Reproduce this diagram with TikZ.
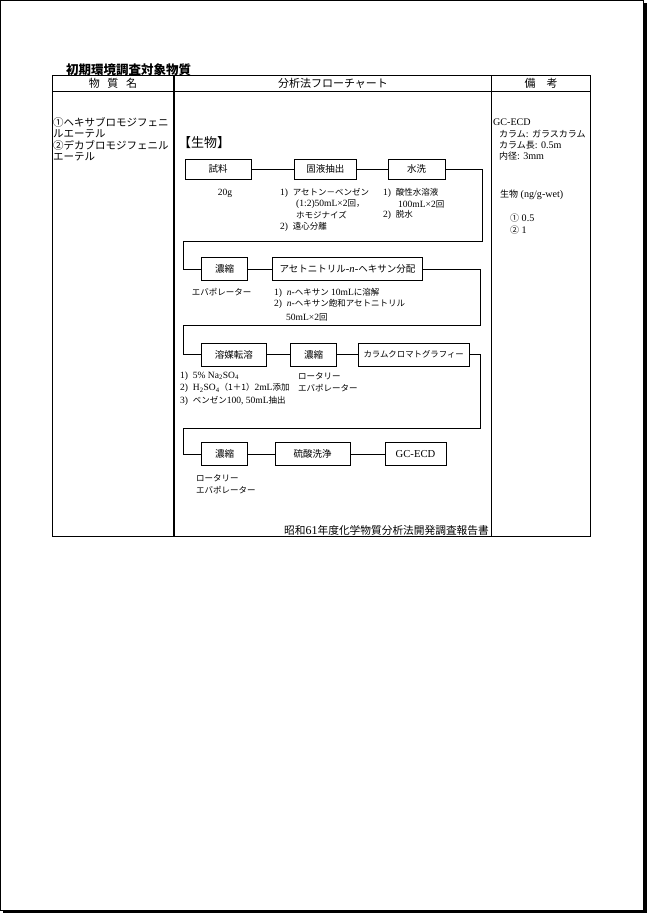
\documentclass[tikz,border=0pt]{standalone}
\usepackage{fontspec}
\setmainfont{Liberation Serif}[Scale=1.12]
\newfontfamily\jp{Noto Sans CJK JP}
\newcommand\fsz[1]{\fontsize{#1}{#1}\selectfont}
\begin{document}
\begin{tikzpicture}[x=1pt,y=-1pt,
  tline/.style={line width=1.1pt},
  box/.style={draw,line width=0.9pt,inner sep=0pt,minimum height=22pt,font=\fsz{9.5}\jp},
  conn/.style={line width=0.9pt},
  note/.style={anchor=west,inner sep=0pt,font=\fsz{8.5}},
  cell/.style={anchor=west,inner sep=0pt,font=\fsz{10.5}\jp},
  rem/.style={anchor=west,inner sep=0pt,font=\fsz{9}},
  head/.style={inner sep=0pt,font=\fsz{11}\jp}]
\useasboundingbox (0,0) rectangle (647,913);
% page frame with shadow
\draw[line width=1pt] (0.5,0.5) rectangle (643.5,910.5);
\fill (643.5,3) rectangle (647,913);
\fill (3,910.5) rectangle (647,913);
% title
\node[anchor=west,inner sep=0pt,font=\fsz{12.5}\jp\bfseries] (title) at (66,70) {初期環境調査対象物質};
% table
\draw[tline] (52.7,75.7) rectangle (590.7,536.7);
\draw[tline] (52.7,91.7) -- (590.7,91.7);
\draw[tline] (174,75.7) -- (174,536.7);
\draw[tline] (491.5,75.7) -- (491.5,536.7);
% headers
\node[head] (h1) at (113,83.5) {物\hspace{0.7em}質\hspace{0.7em}名};
\node[head] (h2) at (333,83.5) {分析法フローチャート};
\node[head] (h3) at (541,83.5) {備\hspace{1em}考};
% left column
\node[cell] (l1) at (53,122) {①ヘキサブロモジフェニ};
\node[cell] (l2) at (53,133.5) {ルエーテル};
\node[cell] (l3) at (53,145) {②デカブロモジフェニル};
\node[cell] (l4) at (53,156.5) {エーテル};
% right column
\node[rem] (g1) at (493,122) {GC-ECD};
\node[rem] (g2) at (499,133.5) {{\jp カラム}: {\jp ガラスカラム}};
\node[rem] (g3) at (499,145) {{\jp カラム長}: 0.5m};
\node[rem] (g4) at (499,156.5) {{\jp 内径}: 3mm};
\node[rem] (g5) at (500,195) {{\jp 生物} (ng/g-wet)};
\node[rem] (g6) at (510,218) {{\jp ①} 0.5};
\node[rem] (g7) at (510,230) {{\jp ②} 1};
% section label
\node[anchor=west,inner sep=0pt,font=\fsz{13}\jp] (sec) at (178,143) {【生物】};
% row 1
\node[box,minimum width=66pt,minimum height=20pt] (s1) at (218,169) {試料};
\node[box,minimum width=62.7pt,minimum height=20pt] (s2) at (325.3,169) {固液抽出};
\node[box,minimum width=56.7pt,minimum height=20pt] (s3) at (416.7,169) {水洗};
\node[note,anchor=center] (n1) at (225,193) {20g};
\node[note] (n2) at (280,193) {1)\ \ {\jp アセトン－ベンゼン}};
\node[note] (n3) at (296,204) {(1:2)50mL×2{\jp 回，}};
\node[note] (n4) at (296,215) {\jp ホモジナイズ};
\node[note] (n5) at (280,227) {2)\ \ {\jp 遠心分離}};
\node[note] (n6) at (383,193) {1)\ \ {\jp 酸性水溶液}};
\node[note] (n7) at (398,204) {100mL×2{\jp 回}};
\node[note] (n8) at (383,215) {2)\ \ {\jp 脱水}};
% row 2
\node[box,minimum width=46pt,minimum height=23pt] (r2a) at (224.7,269) {濃縮};
\node[box,minimum width=149.6pt,minimum height=23pt] (r2b) at (347.5,269) {アセトニトリル{\rmfamily -\textit{n}-}ヘキサン分配};
\node[note] (m1) at (191.7,292) {\jp エバポレーター};
\node[note] (m2) at (274,293) {1)\ \ \textit{n}-{\jp ヘキサン} 10mL{\jp に溶解}};
\node[note] (m3) at (274,304) {2)\ \ \textit{n}-{\jp ヘキサン飽和アセトニトリル}};
\node[note] (m4) at (286,317) {50mL×2{\jp 回}};
% row 3
\node[box,minimum width=64.3pt,minimum height=23pt] (r3a) at (233.8,354.5) {溶媒転溶};
\node[box,minimum width=46pt,minimum height=23pt] (r3b) at (313.7,354.5) {濃縮};
\node[box,minimum width=110.7pt,minimum height=23pt,font=\fsz{8.4}\jp] (r3c) at (413.7,354.5) {カラムクロマトグラフィー};
\node[note] (k1) at (180,376) {1)\ \ 5\% Na\textsubscript{2}SO\textsubscript{4}};
\node[note] (k2) at (180,388) {2)\ \ H\textsubscript{2}SO\textsubscript{4}{\jp （1＋1）}2mL{\jp 添加}};
\node[note] (k3) at (180,401) {3)\ \ {\jp ベンゼン}100, 50mL{\jp 抽出}};
\node[note] (k4) at (298,376) {\jp ロータリー};
\node[note] (k5) at (298,388) {\jp エバポレーター};
% row 4
\node[box,minimum width=46pt,minimum height=23pt] (r4a) at (224.7,454.3) {濃縮};
\node[box,minimum width=75pt,minimum height=23pt] (r4b) at (312.5,454.3) {硫酸洗浄};
\node[box,minimum width=61pt,minimum height=23pt,font=\fsz{9.5}] (r4c) at (415.5,454.3) {GC-ECD};
\node[note] (q1) at (196,478) {\jp ロータリー};
\node[note] (q2) at (196,490) {\jp エバポレーター};
% footer
\node[anchor=east,inner sep=0pt,font=\fsz{10.7}] (foot) at (489,530) {{\jp 昭和}61{\jp 年度化学物質分析法開発調査報告書}};
% connectors
\coordinate (c1) at (482,241);
\coordinate (c2) at (183.3,241);
\coordinate (c3) at (480,325);
\coordinate (c4) at (183.3,325);
\coordinate (c5) at (480.7,428.3);
\coordinate (c6) at (183.3,428.3);
\draw[conn] (s1.east) -- (s2.west);
\draw[conn] (s2.east) -- (s3.west);
\draw[conn] (s3.east) -| (c1) -- (c2) |- (r2a.west);
\draw[conn] (r2a.east) -- (r2b.west);
\draw[conn] (r2b.east) -| (c3) -- (c4) |- (r3a.west);
\draw[conn] (r3a.east) -- (r3b.west);
\draw[conn] (r3b.east) -- (r3c.west);
\draw[conn] (r3c.east) -| (c5) -- (c6) |- (r4a.west);
\draw[conn] (r4a.east) -- (r4b.west);
\draw[conn] (r4b.east) -- (r4c.west);
\end{tikzpicture}
\end{document}
